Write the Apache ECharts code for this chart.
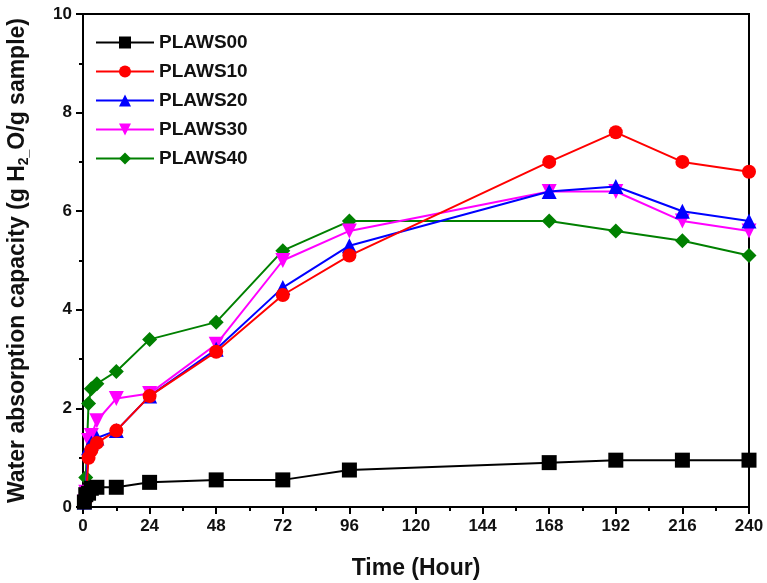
<!DOCTYPE html>
<html>
<head>
<meta charset="utf-8">
<script src="https://cdn.jsdelivr.net/npm/echarts@6/dist/echarts.min.js"></script>
<style>
  html, body { margin: 0; padding: 0; background: #fff; }
  #main { width: 767px; height: 583px; }
</style>
</head>
<body>
<div id="main"></div>
<script>
// time points (hour)
const times = [0.5, 1, 2, 3, 5, 12, 24, 48, 72, 96, 168, 192, 216, 240];
const names = ['PLAWS00', 'PLAWS10', 'PLAWS20', 'PLAWS30', 'PLAWS40'];
const plaws00 = [0.1, 0.25, 0.28, 0.38, 0.4, 0.4, 0.5, 0.55, 0.55, 0.75, 0.9, 0.95, 0.95, 0.95];
const plaws10 = [0.1, 0.15, 1.0, 1.15, 1.3, 1.55, 2.25, 3.15, 4.3, 5.1, 7.0, 7.6, 7.0, 6.8];
const plaws20 = [0.1, 0.3, 1.2, 1.3, 1.4, 1.55, 2.25, 3.2, 4.45, 5.3, 6.4, 6.5, 6.0, 5.8];
const plaws30 = [0.1, 0.3, 1.35, 1.45, 1.75, 2.2, 2.3, 3.3, 5.0, 5.6, 6.4, 6.4, 5.8, 5.6];
const plaws40 = [0.1, 0.6, 2.1, 2.4, 2.5, 2.75, 3.4, 3.75, 5.2, 5.8, 5.8, 5.6, 5.4, 5.1];

const colors = ['#000000', '#ff0000', '#0000ff', '#ff00ff', '#008000'];
const symbols = ['rect', 'circle', 'triangle', 'triangle', 'diamond'];
const rotates = [0, 0, 0, 180, 0];
const allData = [plaws00, plaws10, plaws20, plaws30, plaws40];

const font = 'Liberation Sans, Arial, sans-serif';

var myChart = echarts.init(document.getElementById('main'));

const series = names.map((n, i) => ({
  name: n,
  type: 'line',
  data: times.map((t, k) => [t, allData[i][k]]),
  symbol: symbols[i],
  symbolRotate: rotates[i],
  symbolSize: i === 1 ? 14 : 15,
  lineStyle: { color: colors[i], width: 2 },
  itemStyle: { color: colors[i] },
  z: 5 - i
}));

const option = {
  animation: false,
  grid: {
    left: 83, right: 18, top: 14, bottom: 76,
    outerBoundsMode: 'none', containLabel: false,
    show: true, borderColor: '#000', borderWidth: 2
  },
  legend: {
    orient: 'vertical',
    left: 90,
    top: 28,
    itemWidth: 58,
    itemHeight: 15,
    itemGap: 10,
    textStyle: { fontFamily: font, fontWeight: 'bold', fontSize: 19, color: '#111' },
    data: names
  },
  xAxis: {
    type: 'value',
    min: 0, max: 240, interval: 24,
    name: 'Time (Hour)',
    nameLocation: 'middle',
    nameGap: 50,
    nameTextStyle: { fontFamily: font, fontWeight: 'bold', fontSize: 23, color: '#111' },
    axisLine: { lineStyle: { color: '#000', width: 2 } },
    axisTick: { inside: false, length: 7, lineStyle: { width: 2 } },
    minorTick: { show: true, splitNumber: 2, length: 4, lineStyle: { color: '#000', width: 2 } },
    axisLabel: { fontFamily: font, fontWeight: 'bold', fontSize: 17, color: '#111', margin: 11 },
    splitLine: { show: false }
  },
  yAxis: {
    type: 'value',
    min: 0, max: 10, interval: 2,
    name: 'Water absorption capacity (g H{sub|2_}O/g sample)',
    nameLocation: 'middle',
    nameGap: 52,
    nameTextStyle: {
      fontFamily: font, fontWeight: 'bold', fontSize: 23, color: '#111',
      rich: { sub: { fontFamily: font, fontWeight: 'bold', fontSize: 14, color: '#111', verticalAlign: 'bottom', padding: [13, 0, 0, 0] } }
    },
    axisLine: { lineStyle: { color: '#000', width: 2 } },
    axisTick: { inside: false, length: 7, lineStyle: { width: 2 } },
    minorTick: { show: true, splitNumber: 2, length: 4, lineStyle: { color: '#000', width: 2 } },
    axisLabel: { fontFamily: font, fontWeight: 'bold', fontSize: 17, color: '#111', margin: 11 },
    splitLine: { show: false }
  },
  series: series
};

myChart.setOption(option);
</script>
</body>
</html>
